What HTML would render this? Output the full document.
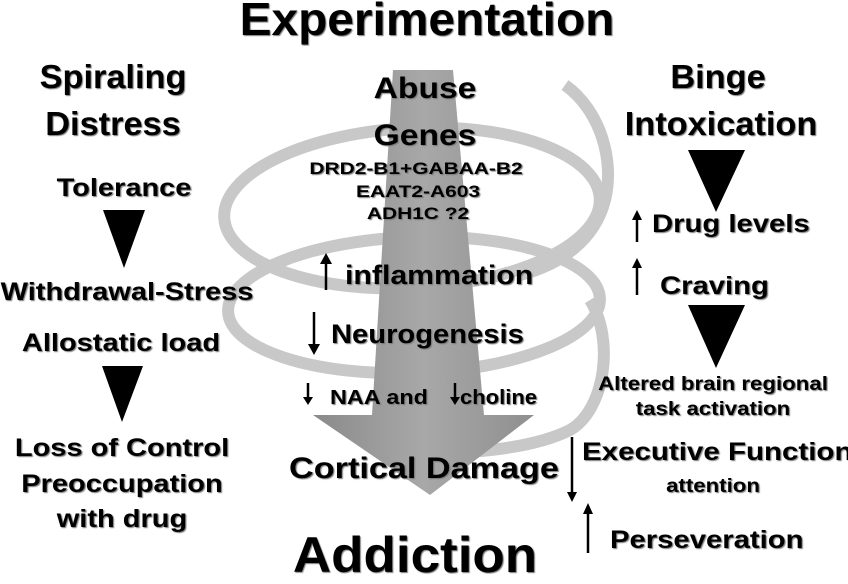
<!DOCTYPE html>
<html><head><meta charset="utf-8"><style>
body{margin:0;width:848px;height:575px;background:#fff;overflow:hidden;position:relative;font-family:"Liberation Sans",Arial,sans-serif;font-weight:bold;color:#000}
.t{position:absolute;white-space:nowrap;text-shadow:1px 1px 1px #777;transform-origin:left center}
.c{transform-origin:center center;width:400px;text-align:center}
svg{position:absolute;left:0;top:0}
</style></head><body>
<svg width="848" height="575">
<defs><linearGradient id="g" x1="0" x2="1"><stop offset="0" stop-color="#8a8a8a"/><stop offset="0.5" stop-color="#a8a8a8"/><stop offset="1" stop-color="#8f8f8f"/></linearGradient></defs>
<g fill="none" stroke="#c8c8c8" stroke-width="12">
<ellipse cx="412" cy="208" rx="188" ry="80" transform="rotate(-3 412 208)"/>
<ellipse cx="414" cy="305" rx="186" ry="68" transform="rotate(-2 414 305)"/>
<path d="M565 85 C600 110 615 160 605 200 C595 240 560 265 520 275"/>
<path d="M590 300 C615 340 605 410 570 430 C530 450 470 453 405 455"/>
</g>
<polygon points="393,70 453,70 484,415 534,415 430,495 313,415 372,415" fill="url(#g)"/>
<g fill="#000">
<polygon points="103,210 145,210 124,268"/>
<polygon points="102,366 143,366 122,422"/>
<polygon points="688,150 745,150 716,212"/>
<polygon points="688,305 745,305 716,368"/>
</g>
<g stroke="#000" stroke-width="2.5" fill="#000">
<line x1="637" y1="242" x2="637" y2="218"/><polygon points="632,220 642,220 637,210" stroke="none"/>
<line x1="637" y1="295" x2="637" y2="266"/><polygon points="632,268 642,268 637,258" stroke="none"/>
<line x1="572" y1="437" x2="572" y2="494"/><polygon points="567,492 577,492 572,502" stroke="none"/>
<line x1="588" y1="553" x2="588" y2="512"/><polygon points="583,514 593,514 588,503" stroke="none"/>
<line x1="326" y1="290" x2="326" y2="262"/><polygon points="320,264 332,264 326,253" stroke="none"/>
<line x1="314" y1="312" x2="314" y2="346"/><polygon points="308,344 320,344 314,355" stroke="none"/>
<line x1="308" y1="383" x2="308" y2="398"/><polygon points="303,397 313,397 308,405" stroke="none"/>
<line x1="455" y1="383" x2="455" y2="398"/><polygon points="450,397 460,397 455,405" stroke="none"/>
</g>
</svg>
<div class="t c" style="left:227px;top:-8px;font-size:46px;transform:scaleX(1.04)">Experimentation</div>
<div class="t c" style="left:-87px;top:58px;font-size:33px;transform:scaleX(1.04)">Spiraling</div>
<div class="t c" style="left:-87px;top:105px;font-size:33px;transform:scaleX(1.04)">Distress</div>
<div class="t c" style="left:-76px;top:174px;font-size:25px;transform:scaleX(1.16)">Tolerance</div>
<div class="t c" style="left:-73px;top:278px;font-size:25px;transform:scaleX(1.16)">Withdrawal-Stress</div>
<div class="t c" style="left:-79px;top:329px;font-size:25px;transform:scaleX(1.16)">Allostatic load</div>
<div class="t c" style="left:-78px;top:434px;font-size:25px;transform:scaleX(1.16)">Loss of Control</div>
<div class="t c" style="left:-78px;top:470px;font-size:25px;transform:scaleX(1.16)">Preoccupation</div>
<div class="t c" style="left:-78px;top:505px;font-size:25px;transform:scaleX(1.16)">with drug</div>
<div class="t c" style="left:215px;top:526px;font-size:50px;transform:scaleX(1.06)">Addiction</div>
<div class="t c" style="left:518px;top:58px;font-size:33px;transform:scaleX(1.04)">Binge</div>
<div class="t c" style="left:521px;top:105px;font-size:33px;transform:scaleX(1.04)">Intoxication</div>
<div class="t" style="left:652px;top:210px;font-size:25px;transform:scaleX(1.17)">Drug levels</div>
<div class="t" style="left:660px;top:272px;font-size:25px;transform:scaleX(1.17)">Craving</div>
<div class="t c" style="left:513px;top:374px;font-size:19px;transform:scaleX(1.17)">Altered brain regional</div>
<div class="t c" style="left:513px;top:399px;font-size:19px;transform:scaleX(1.17)">task activation</div>
<div class="t" style="left:582px;top:438px;font-size:25px;transform:scaleX(1.18)">Executive Function</div>
<div class="t c" style="left:513px;top:476px;font-size:19px;transform:scaleX(1.17)">attention</div>
<div class="t" style="left:610px;top:526px;font-size:25px;transform:scaleX(1.17)">Perseveration</div>
<div class="t c" style="left:225px;top:72px;font-size:30px;transform:scaleX(1.12)">Abuse</div>
<div class="t c" style="left:225px;top:119px;font-size:30px;transform:scaleX(1.12)">Genes</div>
<div class="t c" style="left:216px;top:159px;font-size:17px;transform:scaleX(1.23)">DRD2-B1+GABAA-B2</div>
<div class="t c" style="left:218px;top:182px;font-size:17px;transform:scaleX(1.23)">EAAT2-A603</div>
<div class="t c" style="left:218px;top:204px;font-size:17px;transform:scaleX(1.23)">ADH1C ?2</div>
<div class="t" style="left:345px;top:260px;font-size:27px;transform:scaleX(1.12)">inflammation</div>
<div class="t" style="left:331px;top:319px;font-size:27px;transform:scaleX(1.08)">Neurogenesis</div>
<div class="t" style="left:330px;top:387px;font-size:20px;transform:scaleX(1.17)">NAA and</div>
<div class="t" style="left:460px;top:387px;font-size:20px;transform:scaleX(1.1)">choline</div>
<div class="t c" style="left:224px;top:452px;font-size:30px;transform:scaleX(1.14)">Cortical Damage</div>
</body></html>
